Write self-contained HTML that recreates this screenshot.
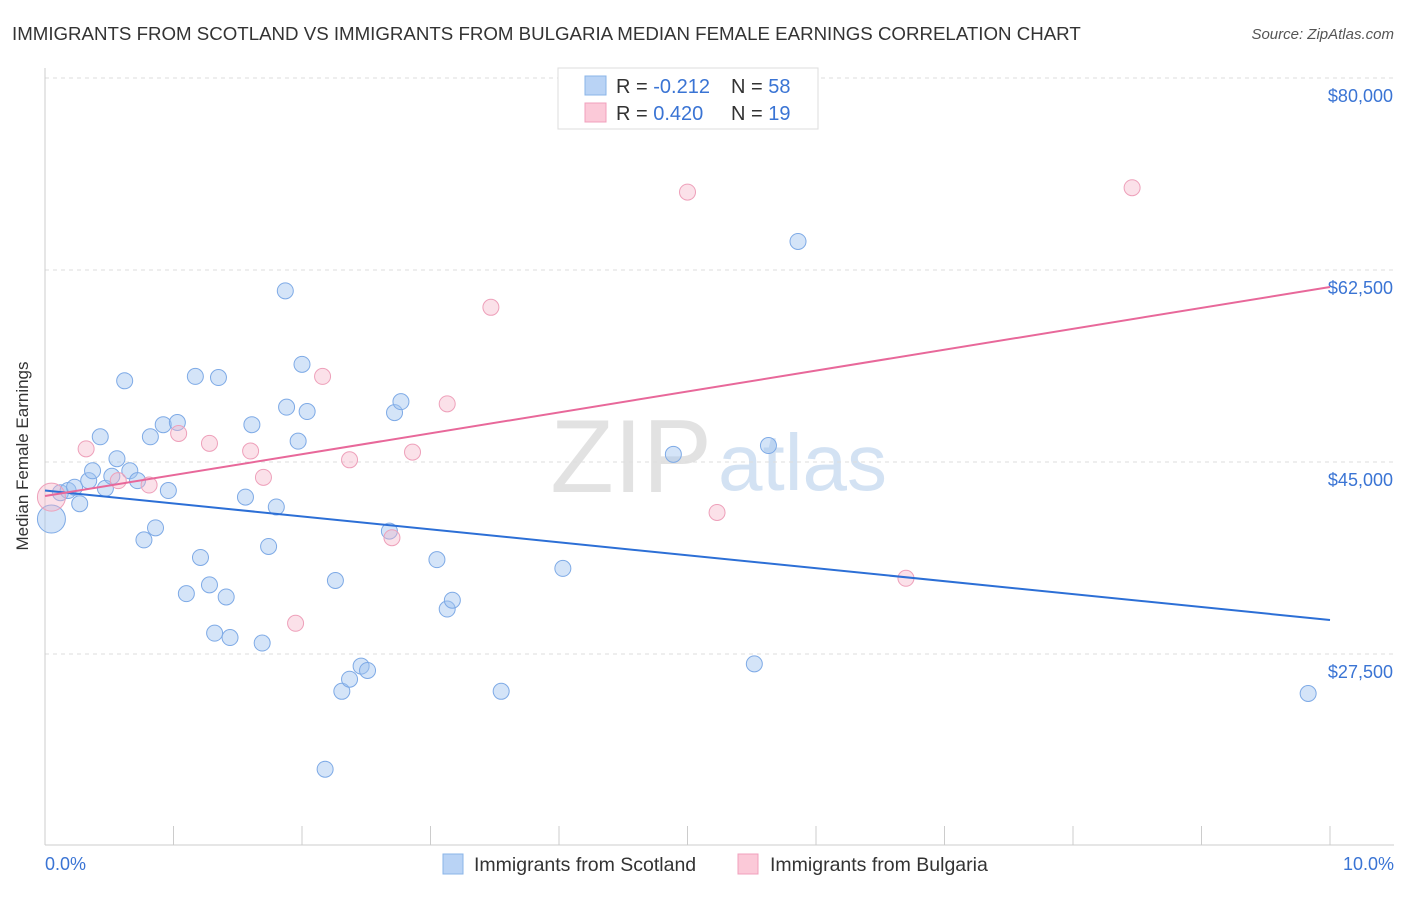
<!DOCTYPE html>
<html><head><meta charset="utf-8"><style>
body{margin:0;background:#fff;font-family:"Liberation Sans",sans-serif;}
svg text{font-family:"Liberation Sans",sans-serif;}
</style></head><body>
<svg id="chart" width="1406" height="892" xmlns="http://www.w3.org/2000/svg">
<text x="12" y="40" font-size="18.7" fill="#333">IMMIGRANTS FROM SCOTLAND VS IMMIGRANTS FROM BULGARIA MEDIAN FEMALE EARNINGS CORRELATION CHART</text>
<text x="1394" y="39" font-size="15" fill="#555" font-style="italic" text-anchor="end">Source: ZipAtlas.com</text>
<text x="712" y="492" font-size="104" fill="#e2e2e2" text-anchor="end" font-family="Liberation Serif">ZIP</text>
<text x="718" y="490" font-size="80" fill="#d3e2f3">atlas</text>
<g id="grid"></g>
<line x1="45" y1="68" x2="45" y2="845" stroke="#ccc"/>
<line x1="45" y1="845" x2="1394" y2="845" stroke="#ccc"/>
<g id="xticks"></g>
<text x="28" y="456" font-size="17" fill="#333" text-anchor="middle" transform="rotate(-90 28 456)">Median Female Earnings</text>
<text x="45" y="870" font-size="18" fill="#3a74d4">0.0%</text>
<text x="1394" y="870" font-size="18" fill="#3a74d4" text-anchor="end">10.0%</text>
<g id="points"></g>
<g id="lines"></g>
<g>
<rect x="558" y="68" width="260" height="61" fill="#fff" stroke="#ddd"/>
<rect x="585" y="76" width="21" height="19" fill="#b9d3f5" stroke="#8ab4e8"/>
<rect x="585" y="103" width="21" height="19" fill="#fbc9d8" stroke="#f0a0bc"/>
<text x="616" y="93" font-size="20" fill="#333">R = <tspan fill="#3a74d4">-0.212</tspan></text>
<text x="731" y="93" font-size="20" fill="#333">N = <tspan fill="#3a74d4">58</tspan></text>
<text x="616" y="120" font-size="20" fill="#333">R = <tspan fill="#3a74d4"> 0.420</tspan></text>
<text x="731" y="120" font-size="20" fill="#333">N = <tspan fill="#3a74d4"> 19</tspan></text>
</g>
<g>
<rect x="443" y="854" width="20" height="20" fill="#b9d3f5" stroke="#8ab4e8"/>
<text x="474" y="871" font-size="19.5" fill="#333">Immigrants from Scotland</text>
<rect x="738" y="854" width="20" height="20" fill="#fbc9d8" stroke="#f0a0bc"/>
<text x="770" y="871" font-size="19.5" fill="#333">Immigrants from Bulgaria</text>
</g>
</svg>
<script>
const yTicks=[80000,62500,45000,27500];
const yTickLabels=["$80,000","$62,500","$45,000","$27,500"];
const xTicks=[0,1,2,3,4,5,6,7,8,9,10];
const blueX=[0.05,0.12,0.18,0.23,0.27,0.34,0.37,0.43,0.47,0.52,0.56,0.62,0.66,0.72,0.77,0.82,0.86,0.92,0.96,1.03,1.10,1.17,1.21,1.28,1.32,1.35,1.41,1.44,1.56,1.61,1.69,1.74,1.80,1.87,1.88,1.97,2.00,2.04,2.18,2.26,2.31,2.37,2.46,2.51,2.68,2.72,2.77,3.05,3.13,3.17,3.55,4.03,4.89,5.52,5.63,5.86,9.83];
const blueY=[39800,42200,42400,42700,41200,43300,44200,47300,42600,43700,45300,52400,44200,43300,37900,47300,39000,48400,42400,48600,33000,52800,36300,33800,29400,52700,32700,29000,41800,48400,28500,37300,40900,60600,50000,46900,53900,49600,17000,34200,24100,25200,26400,26000,38700,49500,50500,36100,31600,32400,24100,35300,45700,26600,46500,65100,23900];
const pinkX=[0.05,0.32,0.57,0.81,1.04,1.28,1.60,1.70,1.95,2.16,2.37,2.70,2.86,3.13,3.47,5.00,5.23,6.70,8.46];
const pinkY=[41800,46200,43300,42900,47600,46700,46000,43600,30300,52800,45200,38100,45900,50300,59100,69600,40400,34400,70000];
const blueTrend=[42400,30600];
const pinkTrend=[41900,60950];
const NS="http://www.w3.org/2000/svg";
function sx(v){return 45+v*128.5;}
function sy(v){return 462-(v-45000)*192/17500;}
function mk(tag,attrs,parent){const e=document.createElementNS(NS,tag);for(const k in attrs)e.setAttribute(k,attrs[k]);document.getElementById(parent).appendChild(e);return e;}
yTicks.forEach((t,i)=>{
  const l=mk('line',{x1:45,x2:1394,y1:sy(t),y2:sy(t),stroke:'#ddd','stroke-dasharray':'4,4'},'grid');
  
  
  const tx=mk('text',{x:1393,y:sy(t)+24,'font-size':18,fill:'#3a74d4','text-anchor':'end'},'grid');
  tx.textContent=yTickLabels[i];
  
  
});
xTicks.forEach(t=>{
  const l=mk('line',{x1:sx(t),x2:sx(t),y1:826,y2:845,stroke:'#ccc'},'xticks');
  
  
});
function pts(xs,ys,fill,stroke,name){
  xs.forEach((x,i)=>{
    const r=i===0?14:8;
    const c=mk('circle',{cx:sx(x),cy:sy(ys[i]),r:r,fill:fill,stroke:stroke,'stroke-width':1},'points');
    
    
  });
}
pts(blueX,blueY,'rgba(160,196,240,0.45)','#7eaae6','scotland-point');
pts(pinkX,pinkY,'rgba(245,180,200,0.4)','#eea0ba','bulgaria-point');
const bl=mk('line',{x1:sx(0),y1:sy(blueTrend[0]),x2:sx(10),y2:sy(blueTrend[1]),stroke:'#2c6fd6','stroke-width':2},'lines');


const pl=mk('line',{x1:sx(0),y1:sy(pinkTrend[0]),x2:sx(10),y2:sy(pinkTrend[1]),stroke:'#e8689a','stroke-width':2},'lines');


</script>
</body></html>
